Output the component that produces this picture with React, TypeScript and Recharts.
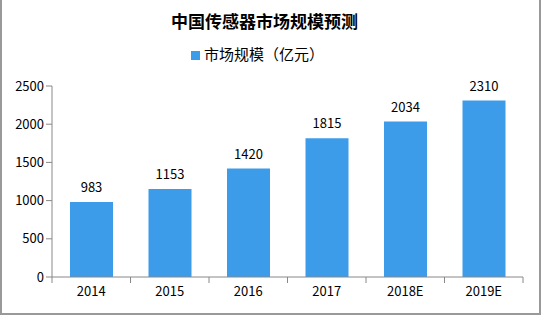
import { BarChart, Bar, XAxis, YAxis, Legend, LabelList } from "recharts"

const years = ["2014", "2015", "2016", "2017", "2018E", "2019E"]
const marketSize = [983, 1153, 1420, 1815, 2034, 2310]
const yTicks = [0, 500, 1000, 1500, 2000, 2500]

const data = years.map((year, i) => ({ year, value: marketSize[i] }))

const font = "'Noto Sans CJK SC', 'DejaVu Sans', sans-serif"

function XTick(props: any) {
  const { x, y, payload, index } = props
  const half = payload?.offset ?? 39.6
  return (
    <g>
      <line x1={x - half} y1={y - 8} x2={x - half} y2={y - 2} stroke="#888" />
      {index === years.length - 1 && (
        <line x1={x + half} y1={y - 8} x2={x + half} y2={y - 2} stroke="#888" />
      )}
      <text x={x} y={y + 11} textAnchor="middle" fontSize={13} fill="#000" fontFamily={font}>
        {payload.value}
      </text>
    </g>
  )
}

export default function App() {
  return (
    <div
      style={{
        position: "fixed",
        left: 0,
        top: 0,
        width: 541,
        height: 315,
        background: "#fff",
        boxSizing: "border-box",
        borderLeft: "2px solid #999",
        borderRight: "2px solid #999",
        borderBottom: "2px solid #999",
      }}
    >
      <div
        style={{
          position: "absolute",
          left: 0,
          top: 8,
          width: 525,
          textAlign: "center",
          fontFamily: font,
          fontWeight: "bold",
          fontSize: 17,
          color: "#000",
        }}
      >
        中国传感器市场规模预测
      </div>
      <BarChart
        width={537}
        height={313}
        data={data}
        margin={{ top: 65, right: 14, left: 0, bottom: 18 }}
        style={{ position: "absolute", left: -2, top: 0 }}
      >
        <XAxis
          dataKey="year"
          axisLine={{ stroke: "#888" }}
          tickLine={false}
          tick={<XTick />}
          height={18}
          interval={0}
        />
        <YAxis
          domain={[0, 2500]}
          ticks={yTicks}
          width={52}
          axisLine={{ stroke: "#888" }}
          tickLine={{ stroke: "#888" }}
          tickSize={6}
          tick={{ fontSize: 13, fill: "#000", fontFamily: font }}
        />
        <Legend
          verticalAlign="top"
          align="center"
          iconType="square"
          iconSize={9}
          wrapperStyle={{ top: 43, left: 0, width: 525, fontFamily: font, fontSize: 15 }}
          formatter={(v: string) => <span style={{ color: "#000" }}>{v}</span>}
        />
        <Bar
          dataKey="value"
          name="市场规模（亿元）"
          fill="#3d9cea"
          barSize={43}
          isAnimationActive={false}
        >
          <LabelList
            dataKey="value"
            position="top"
            offset={10}
            style={{ fontSize: 13, fill: "#000", fontFamily: font }}
          />
        </Bar>
      </BarChart>
    </div>
  )
}
